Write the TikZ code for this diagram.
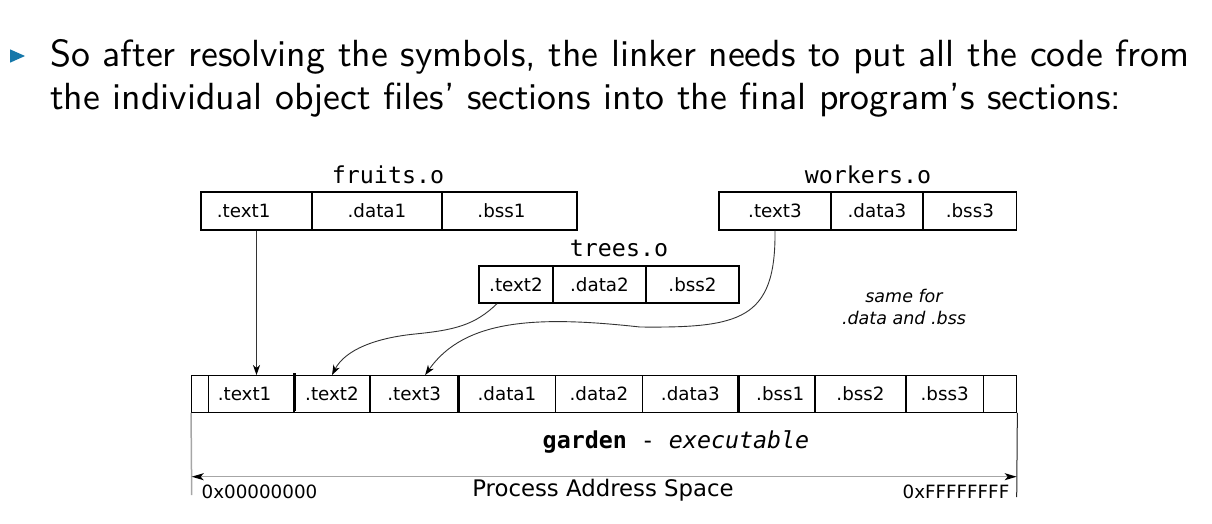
\documentclass[tikz,border=0pt]{standalone}
\usepackage{fontspec}
\newfontfamily\dv{DejaVu Sans}
\newfontfamily\dvmono{DejaVu Sans Mono}
\newfontfamily\cmss{lmsans10-regular.otf}
\usetikzlibrary{arrows.meta}
\definecolor{bulletblue}{RGB}{22,120,170}
\begin{document}
\begin{tikzpicture}[x=1pt,y=-1pt,
  celltext/.style={font=\dv\fontsize{18.3}{22}\selectfont,text height=13.3pt,text depth=0pt,inner sep=0pt},
  cell/.style={draw=black,line width=1.3pt,minimum height=38pt,inner sep=0pt,celltext},
  bcell/.style={cell,minimum height=36.6pt},
  head/.style={font=\dvmono\fontsize{23.3}{26}\selectfont,anchor=base,inner sep=0pt},
  conn/.style={draw=black!80,line width=0.9pt,-{Stealth[length=10pt,width=7pt,inset=3pt,black]}},
  thickdiv/.style={line width=3pt,black},
  addr/.style={draw=black!35,line width=1.3pt,{Stealth[length=12pt,width=7pt,inset=3pt,black]}-{Stealth[length=12pt,width=7pt,inset=3pt,black]}},
  slide/.style={anchor=base west,inner sep=0pt,font=\cmss\fontsize{37.8}{42}\selectfont},
]
\useasboundingbox (0,0) rectangle (1212,523);
% bullet and heading text
\fill[bulletblue] (10,49.3) -- (10,62.7) -- (25,56) -- cycle;
\node[slide] (l1) at (50,66.7) {So after resolving the symbols, the linker needs to put all the code from};
\node[slide] (l2) at (50,109) {the individual object files’ sections into the final program’s sections:};
% fruits.o
\node[head] (fo) at (388,183.3) {fruits.o};
\node[cell,minimum width=111pt,label={[celltext,xshift=-12.8pt]center:.text1}] (f1) at (256.5,211) {};
\node[cell,minimum width=130pt] (f2) at (377,211) {.data1};
\node[cell,minimum width=135pt,label={[celltext,xshift=-8pt]center:.bss1}] (f3) at (509.5,211) {};
% workers.o
\node[head] (wo) at (868,183.3) {workers.o};
\node[cell,minimum width=112pt] (w1) at (775,211) {.text3};
\node[cell,minimum width=92pt] (w2) at (877,211) {.data3};
\node[cell,minimum width=93.7pt] (w3) at (969.85,211) {.bss3};
% trees.o
\node[head] (to) at (619,256.7) {trees.o};
\node[cell,minimum width=74pt,minimum height=37pt] (t1) at (516,284.5) {.text2};
\node[cell,minimum width=93pt,minimum height=37pt] (t2) at (599.5,284.5) {.data2};
\node[cell,minimum width=93pt,minimum height=37pt] (t3) at (692.5,284.5) {.bss2};
% note
\node[align=center,inner sep=0pt,font=\dv\itshape\fontsize{17.5}{22.3}\selectfont] (note) at (904,307) {same for\\.data and .bss};
% executable strip
\node[bcell,minimum width=16.6pt] (b0) at (200,394) {};
\node[bcell,minimum width=85.7pt,label={[celltext,xshift=-6.6pt]center:.text1}] (b1) at (251.15,394) {};
\node[bcell,minimum width=76pt] (b2) at (332,394) {.text2};
\node[bcell,minimum width=88.3pt] (b3) at (414.15,394) {.text3};
\node[bcell,minimum width=97.4pt] (b4) at (507,394) {.data1};
\node[bcell,minimum width=86.6pt] (b5) at (599,394) {.data2};
\node[bcell,minimum width=96pt] (b6) at (690.3,394) {.data3};
\node[bcell,minimum width=76.7pt,label={[celltext,xshift=3.6pt]center:.bss1}] (b7) at (776.65,394) {};
\node[bcell,minimum width=91pt] (b8) at (860.5,394) {.bss2};
\node[bcell,minimum width=77.3pt] (b9) at (944.65,394) {.bss3};
\node[bcell,minimum width=33.4pt] (b10) at (1000,394) {};
\draw[thickdiv] ([yshift=2pt]b1.north east) -- ([yshift=2pt]b1.south east);
\draw[thickdiv] (b3.north east) -- (b3.south east);
\draw[thickdiv] (b6.north east) -- (b6.south east);
% garden area
\coordinate (gl) at (191.7,495);
\coordinate (gr) at (1016.7,497);
\draw[black!35,line width=1.5pt] (b0.south west) -- (gl);
\draw[black!85,line width=1pt] (b10.south east) -- (gr);
\node[anchor=base,inner sep=0pt,font=\dvmono\fontsize{23.3}{26}\selectfont] (garden) at (676,448.3) {\textbf{garden} - \textit{executable}};
\coordinate (al) at (191.7,476.7);
\coordinate (ar) at (1016.7,476.7);
\draw[addr] (al) -- (ar);
\node[anchor=base,inner sep=0pt,font=\dv\fontsize{22.8}{26}\selectfont] (pas) at (603,496) {Process Address Space};
\node[anchor=base west,inner sep=0pt,font=\dv\fontsize{18.3}{22}\selectfont] (lo) at (201.5,498.3) {0x00000000};
\node[anchor=base east,inner sep=0pt,font=\dv\fontsize{18.3}{22}\selectfont] (hi) at (1009.5,498.3) {0xFFFFFFFF};
% connectors
\draw[conn] (f1.south) -- (f1.south |- b1.north);
\draw[conn] ([xshift=-19pt]t1.south) .. controls (475,325) and (455,330) .. (415,334) .. controls (375,338) and (345,350) .. (b2.north);
\draw[conn] (w1.south) .. controls (776,320) and (740,328) .. (640,327) .. controls (540,316) and (465,318) .. ([xshift=11pt]b3.north);
\end{tikzpicture}
\end{document}
